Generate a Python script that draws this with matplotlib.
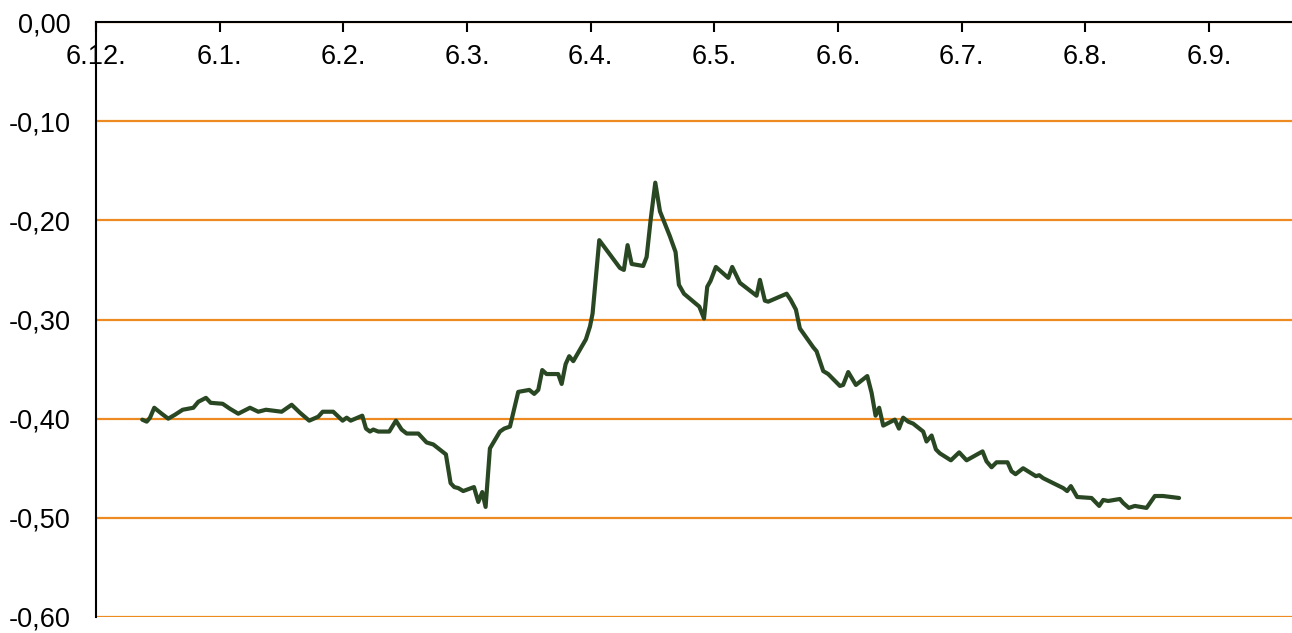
import numpy as np
import matplotlib.pyplot as plt
from matplotlib.ticker import FuncFormatter, FixedLocator

plt.rcParams['font.family'] = ['Liberation Sans', 'DejaVu Sans']

# month labels on the x axis (one per month, 6.12. .. 6.9.)
month_labels = ["6.12.", "6.1.", "6.2.", "6.3.", "6.4.", "6.5.", "6.6.", "6.7.", "6.8.", "6.9."]

# position along the axis, in months after 6.12.
x_pos = [0.374, 0.410, 0.437, 0.471, 0.531, 0.584, 0.639, 0.701, 0.787, 0.827,
         0.889, 0.927, 1.024, 1.083, 1.150, 1.245, 1.312, 1.374, 1.501, 1.582,
         1.649, 1.724, 1.797, 1.833, 1.918, 1.994, 2.027, 2.059, 2.153, 2.183,
         2.215, 2.242, 2.282, 2.371, 2.425, 2.471, 2.512, 2.606, 2.673, 2.727,
         2.829, 2.867, 2.897, 2.929, 2.969, 3.056, 3.091, 3.123, 3.150, 3.185,
         3.266, 3.301, 3.347, 3.414, 3.503, 3.543, 3.576, 3.608, 3.643, 3.737,
         3.765, 3.797, 3.826, 3.859, 3.961, 3.994, 4.015, 4.069, 4.236, 4.268,
         4.298, 4.331, 4.424, 4.452, 4.484, 4.522, 4.560, 4.640, 4.686, 4.713,
         4.754, 4.878, 4.916, 4.942, 4.969, 5.012, 5.112, 5.144, 5.206, 5.341,
         5.368, 5.408, 5.435, 5.584, 5.616, 5.659, 5.691, 5.799, 5.826, 5.880,
         5.920, 6.015, 6.041, 6.082, 6.144, 6.236, 6.271, 6.303, 6.332, 6.365,
         6.459, 6.492, 6.526, 6.567, 6.607, 6.688, 6.715, 6.756, 6.791, 6.823,
         6.912, 6.979, 7.039, 7.168, 7.200, 7.241, 7.281, 7.370, 7.402, 7.435,
         7.496, 7.599, 7.626, 7.658, 7.820, 7.852, 7.882, 7.933, 8.049, 8.111,
         8.143, 8.184, 8.278, 8.305, 8.351, 8.399, 8.494, 8.561, 8.628, 8.757]

values = [-0.401, -0.403, -0.399, -0.389, -0.395, -0.400, -0.396, -0.391, -0.389, -0.383,
          -0.379, -0.384, -0.385, -0.390, -0.395, -0.389, -0.393, -0.391, -0.393, -0.386,
          -0.394, -0.402, -0.398, -0.393, -0.393, -0.402, -0.399, -0.402, -0.397, -0.410,
          -0.413, -0.411, -0.413, -0.413, -0.402, -0.411, -0.415, -0.415, -0.424, -0.426,
          -0.436, -0.465, -0.469, -0.470, -0.473, -0.469, -0.484, -0.474, -0.489, -0.430,
          -0.413, -0.410, -0.408, -0.373, -0.371, -0.375, -0.371, -0.351, -0.355, -0.355,
          -0.365, -0.345, -0.337, -0.342, -0.320, -0.307, -0.294, -0.220, -0.248, -0.250,
          -0.225, -0.244, -0.246, -0.237, -0.200, -0.162, -0.191, -0.216, -0.232, -0.265,
          -0.274, -0.287, -0.299, -0.267, -0.261, -0.247, -0.258, -0.247, -0.263, -0.276,
          -0.260, -0.281, -0.282, -0.274, -0.280, -0.290, -0.309, -0.328, -0.332, -0.352,
          -0.355, -0.367, -0.366, -0.353, -0.366, -0.357, -0.374, -0.397, -0.389, -0.407,
          -0.401, -0.410, -0.399, -0.403, -0.405, -0.413, -0.423, -0.417, -0.431, -0.435,
          -0.442, -0.434, -0.442, -0.433, -0.443, -0.449, -0.444, -0.444, -0.453, -0.456,
          -0.450, -0.458, -0.457, -0.460, -0.470, -0.473, -0.468, -0.479, -0.480, -0.488,
          -0.482, -0.483, -0.481, -0.485, -0.490, -0.488, -0.490, -0.478, -0.478, -0.480]

y_ticks = [0.0, -0.1, -0.2, -0.3, -0.4, -0.5, -0.6]


def comma_fmt(v, pos):
    s = "%.2f" % v
    if s == "-0.00":
        s = "0.00"
    return s.replace(".", ",")


fig = plt.figure(figsize=(12.92, 6.33), dpi=100)
ax = fig.add_axes([0.0743, 0.0253, 0.9257, 0.9399])

ax.plot(x_pos, values, color='#2A4723', linewidth=3.0, solid_joinstyle='round',
        solid_capstyle='round', zorder=3)

ax.set_xlim(0, 9.67)
ax.set_ylim(-0.6, 0.0)

ax.yaxis.set_major_locator(FixedLocator(y_ticks))
ax.yaxis.set_major_formatter(FuncFormatter(comma_fmt))
ax.grid(axis='y', color='#EE8A22', linewidth=1.6)
ax.set_axisbelow(True)

ax.set_xticks(range(len(month_labels)))
ax.set_xticklabels(month_labels)

# x axis crosses at 0, so it sits at the top
ax.spines['bottom'].set_position(('data', 0))
ax.spines['top'].set_visible(False)
ax.spines['right'].set_visible(False)
for side in ['bottom', 'left']:
    ax.spines[side].set_linewidth(1.5)
    ax.spines[side].set_zorder(4)

ax.tick_params(axis='x', direction='out', length=7, width=1.5, pad=9, labelsize=19.5)
ax.tick_params(axis='y', length=0, pad=18, labelsize=19.5)

plt.savefig('out.png', dpi=100)
